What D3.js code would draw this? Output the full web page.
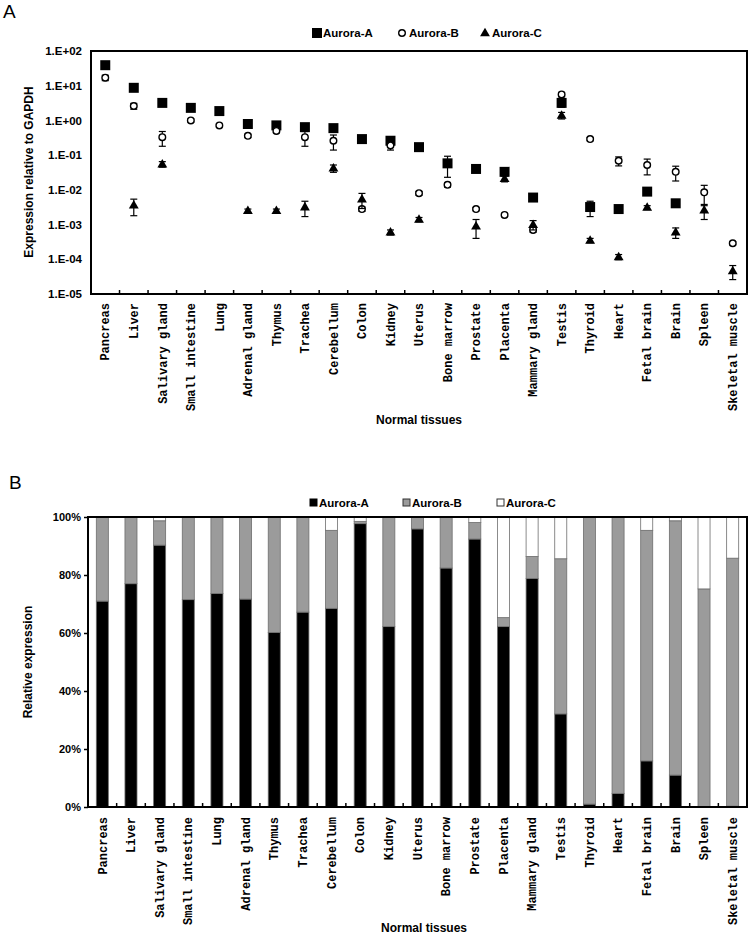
<!DOCTYPE html>
<html lang="en">
<head>
  <meta charset="UTF-8" />
  <title>Aurora kinase expression in normal tissues</title>
  <style>
    body {
      margin: 0;
      padding: 0;
      background: white;
    }
    svg {
      display: block;
      font-family: "Liberation Sans", Arial, sans-serif;
    }
    .axis path, .axis line {
      stroke: black;
    }
    .tick-label {
      font-family: "Liberation Sans", Arial, sans-serif;
      font-weight: bold;
      font-size: 11px;
      fill: black;
    }
    .cat-label {
      font-family: "Liberation Mono", "Courier New", monospace;
      font-weight: bold;
      font-size: 12px;
      fill: black;
    }
    .title {
      font-weight: bold;
      font-size: 12px;
    }
    .legend {
      font-weight: bold;
      font-size: 11.5px;
    }
    .panel {
      font-size: 19px;
    }
  </style>
</head>
<body>
<svg id="chart" width="750" height="938"></svg>

<script src="https://d3js.org/d3.v7.min.js"></script>
<script>
  // ---- data ----
  const tissues = ["Pancreas", "Liver", "Salivary gland", "Small intestine", "Lung",
    "Adrenal gland", "Thymus", "Trachea", "Cerebellum", "Colon", "Kidney", "Uterus",
    "Bone marrow", "Prostate", "Placenta", "Mammary gland", "Testis", "Thyroid",
    "Heart", "Fetal brain", "Brain", "Spleen", "Skeletal muscle"];

  // panel A: expression relative to GAPDH (null = not detected)
  const auroraA = [39, 8.7, 3.2, 2.3, 1.86, 0.79, 0.72, 0.64, 0.6, 0.29, 0.26, 0.17,
    0.058, 0.04, 0.033, 0.006, 3.2, 0.0032, 0.0028, 0.0089, 0.0041, null, null];
  const auroraB = [17, 2.6, 0.33, 1.0, 0.72, 0.36, 0.5, 0.33, 0.26, 0.0028, 0.19, 0.008,
    0.014, 0.0028, 0.0019, 0.0007, 5.6, 0.29, 0.069, 0.052, 0.033, 0.0085, 0.00029];
  const auroraC = [null, 0.0036, 0.055, null, null, 0.0025, 0.0025, 0.0032, 0.042, 0.0054,
    0.0006, 0.0014, null, 0.0009, 0.021, 0.001, 1.4, 0.00035, 0.000117, 0.0031, 0.0006,
    0.0026, 0.000046];

  // standard deviations
  const errA = [3, 0.8, 0.3, 0.2, 0.15, 0.15, 0.08, 0.08, 0.05, 0.03, 0.03, 0.02,
    0.035, 0.004, 0.006, 0.0008, 0.8, 0.0015, 0.0003, 0.0008, 0.0005, 0, 0];
  const errB = [3, 0.5, 0.15, 0.1, 0.06, 0.04, 0.06, 0.15, 0.12, 0.0004, 0.05, 0.001,
    0.002, 0.0003, 0.0002, 0.0001, 0.8, 0.03, 0.02, 0.025, 0.015, 0.005, 0.00003];
  const errC = [0, 0.0018, 0.01, 0, 0, 0.0003, 0.0003, 0.0015, 0.01, 0.0025,
    0.0001, 0.0002, 0, 0.0005, 0.004, 0.0003, 0.3, 0.00005, 0.00002, 0.0004, 0.0002,
    0.0012, 0.00002];

  const logTicks = [1e2, 1e1, 1e0, 1e-1, 1e-2, 1e-3, 1e-4, 1e-5];
  const logTickLabels = ["1.E+02", "1.E+01", "1.E+00", "1.E-01", "1.E-02", "1.E-03", "1.E-04", "1.E-05"];

  // panel B: relative expression (%)
  const pctA = [71, 77, 90.3, 71.5, 73.6, 71.7, 60.2, 67.2, 68.5, 97.7, 62.2, 95.9,
    82.4, 92.4, 62.2, 78.8, 32.1, 1, 4.7, 15.9, 11, 0, 0.3];
  const pctB = [29, 23, 8.4, 28.5, 26.4, 28.3, 39.8, 32.8, 26.9, 0.8, 37.8, 4,
    17.6, 5.7, 3.1, 7.6, 53.5, 99, 95.3, 79.5, 87.7, 75.2, 85.5];
  const pctC = [0, 0, 1.3, 0, 0, 0, 0, 0, 4.6, 1.5, 0, 0.1,
    0, 1.9, 34.7, 13.6, 14.4, 0, 0, 4.6, 1.3, 24.8, 14.2];

  const pctTicks = [0, 20, 40, 60, 80, 100];

  const svg = d3.select("#chart");

  // ================= Panel A =================
  const A = { left: 91, right: 747, top: 51, bottom: 294 };

  const xA = d3.scaleBand().domain(tissues).range([A.left, A.right]);
  const yA = d3.scaleLog().domain([1e-5, 100]).range([A.bottom, A.top]);

  svg.append("text").attr("class", "panel").attr("x", 3).attr("y", 18).text("A");

  // y axis
  svg.append("g")
    .attr("class", "axis")
    .attr("transform", `translate(${A.left},0)`)
    .call(d3.axisLeft(yA).tickValues(logTicks).tickFormat((d, i) => logTickLabels[i]).tickSize(0).tickPadding(9))
    .call(g => g.select(".domain").remove())
    .call(g => g.selectAll("text").attr("class", "tick-label").style("font-size", "11.5px"));

  // x axis labels
  svg.append("g")
    .attr("class", "axis")
    .attr("transform", `translate(0,${A.bottom})`)
    .call(d3.axisBottom(xA).tickSize(0))
    .call(g => g.select(".domain").remove())
    .call(g => g.selectAll("text")
      .attr("class", "cat-label")
      .attr("transform", "rotate(-90)")
      .attr("x", -9).attr("y", 0).attr("dy", "0.35em")
      .style("text-anchor", "end"));

  // inward boundary ticks
  svg.append("g").selectAll("line")
    .data(d3.range(1, tissues.length))
    .join("line")
    .attr("x1", i => A.left + i * xA.step()).attr("x2", i => A.left + i * xA.step())
    .attr("y1", A.bottom).attr("y2", A.bottom - 4)
    .attr("stroke", "black").attr("stroke-width", 1.5);

  // frame
  svg.append("rect")
    .attr("x", A.left).attr("y", A.top)
    .attr("width", A.right - A.left).attr("height", A.bottom - A.top)
    .attr("fill", "none").attr("stroke", "black").attr("stroke-width", 2);

  const series = [
    { name: "Aurora-A", vals: auroraA, err: errA, shape: "square" },
    { name: "Aurora-B", vals: auroraB, err: errB, shape: "circle" },
    { name: "Aurora-C", vals: auroraC, err: errC, shape: "triangle" }
  ];

  function drawMarker(g, shape) {
    if (shape === "square") {
      g.append("path").attr("d", d3.symbol(d3.symbolSquare, 100)()).attr("fill", "black");
    } else if (shape === "circle") {
      g.append("circle").attr("r", 3.3).attr("fill", "white").attr("stroke", "black").attr("stroke-width", 1.4);
    } else {
      g.append("path").attr("d", d3.symbol(d3.symbolTriangle, 42)()).attr("fill", "black")
        .attr("transform", "translate(0,0.5)");
    }
  }

  series.forEach(s => {
    const pts = tissues.map((t, i) => ({ t, v: s.vals[i], e: s.err[i] })).filter(d => d.v != null);

    // error bars
    const eg = svg.append("g").attr("stroke", "black").attr("stroke-width", 1.2);
    pts.filter(d => d.e > 0).forEach(d => {
      const cx = xA(d.t) + xA.bandwidth() / 2;
      const yHi = yA(d.v + d.e);
      const yLo = yA(Math.max(d.v - d.e, d.v * 0.2));
      eg.append("line").attr("x1", cx).attr("x2", cx).attr("y1", yHi).attr("y2", yLo);
      eg.append("line").attr("x1", cx - 3.5).attr("x2", cx + 3.5).attr("y1", yHi).attr("y2", yHi);
      eg.append("line").attr("x1", cx - 3.5).attr("x2", cx + 3.5).attr("y1", yLo).attr("y2", yLo);
    });

    pts.forEach(d => {
      const g = svg.append("g")
        .attr("transform", `translate(${xA(d.t) + xA.bandwidth() / 2},${yA(d.v)})`);
      drawMarker(g, s.shape);
    });
  });

  // legend A
  const legA = [
    { shape: "square", x: 317, label: "Aurora-A" },
    { shape: "circle", x: 402, label: "Aurora-B" },
    { shape: "triangle", x: 485, label: "Aurora-C" }
  ];
  legA.forEach(l => {
    const g = svg.append("g").attr("transform", `translate(${l.x},33)`);
    drawMarker(g, l.shape);
    svg.append("text").attr("class", "legend")
      .attr("x", l.x + (l.shape === "square" ? 6 : 7)).attr("y", 37).text(l.label);
  });

  svg.append("text").attr("class", "title")
    .attr("transform", "translate(33,172) rotate(-90)")
    .attr("text-anchor", "middle").text("Expression relative to GAPDH");

  svg.append("text").attr("class", "title")
    .attr("x", (A.left + A.right) / 2).attr("y", 424)
    .attr("text-anchor", "middle").text("Normal tissues");

  // ================= Panel B =================
  const B = { left: 88, right: 747, top: 517, bottom: 807 };

  const xB = d3.scaleBand().domain(tissues).range([B.left, B.right])
    .paddingInner(0.58).paddingOuter(0.29);
  const yB = d3.scaleLinear().domain([0, 100]).range([B.bottom, B.top]);

  svg.append("text").attr("class", "panel").attr("x", 9).attr("y", 489).text("B");

  const rows = tissues.map((t, i) => ({ tissue: t, A: pctA[i], B: pctB[i], C: pctC[i] }));
  const stack = d3.stack().keys(["A", "B", "C"])(rows);
  const fills = { A: "black", B: "#9b9b9b", C: "white" };

  svg.append("g").selectAll("g")
    .data(stack)
    .join("g")
    .attr("fill", d => fills[d.key])
    .selectAll("rect")
    .data(d => d.filter(p => p[1] - p[0] > 0))
    .join("rect")
    .attr("x", d => xB(d.data.tissue))
    .attr("width", xB.bandwidth())
    .attr("y", d => yB(d[1]))
    .attr("height", d => yB(d[0]) - yB(d[1]))
    .attr("stroke", "#6e6e6e").attr("stroke-width", 0.8);

  svg.append("g")
    .attr("class", "axis")
    .attr("transform", `translate(${B.left},0)`)
    .call(d3.axisLeft(yB).tickValues(pctTicks).tickFormat(d => d + "%").tickSize(4).tickPadding(3))
    .call(g => g.select(".domain").remove())
    .call(g => g.selectAll("line").attr("stroke-width", 1.5))
    .call(g => g.selectAll("text").attr("class", "tick-label"));

  svg.append("g")
    .attr("class", "axis")
    .attr("transform", `translate(0,${B.bottom})`)
    .call(d3.axisBottom(xB).tickSize(0))
    .call(g => g.select(".domain").remove())
    .call(g => g.selectAll("text")
      .attr("class", "cat-label")
      .attr("transform", "rotate(-90)")
      .attr("x", -10).attr("y", 0).attr("dy", "0.35em")
      .style("text-anchor", "end"));

  svg.append("g").selectAll("line")
    .data(d3.range(1, tissues.length))
    .join("line")
    .attr("x1", i => B.left + i * xB.step()).attr("x2", i => B.left + i * xB.step())
    .attr("y1", B.bottom).attr("y2", B.bottom - 4)
    .attr("stroke", "black").attr("stroke-width", 1.5);

  svg.append("rect")
    .attr("x", B.left).attr("y", B.top)
    .attr("width", B.right - B.left).attr("height", B.bottom - B.top)
    .attr("fill", "none").attr("stroke", "black").attr("stroke-width", 2);

  // legend B
  const legB = [
    { key: "A", x: 310, label: "Aurora-A" },
    { key: "B", x: 403, label: "Aurora-B" },
    { key: "C", x: 497, label: "Aurora-C" }
  ];
  legB.forEach(l => {
    svg.append("rect").attr("x", l.x).attr("y", 499).attr("width", 7).attr("height", 7)
      .attr("fill", fills[l.key]).attr("stroke", l.key === "A" ? "black" : "#333").attr("stroke-width", 1);
    svg.append("text").attr("class", "legend").attr("x", l.x + 9).attr("y", 507).text(l.label);
  });

  svg.append("text").attr("class", "title")
    .attr("transform", `translate(32,${(B.top + B.bottom) / 2}) rotate(-90)`)
    .attr("text-anchor", "middle").text("Relative expression");

  svg.append("text").attr("class", "title")
    .attr("x", 424).attr("y", 932)
    .attr("text-anchor", "middle").text("Normal tissues");
</script>
</body>
</html>
